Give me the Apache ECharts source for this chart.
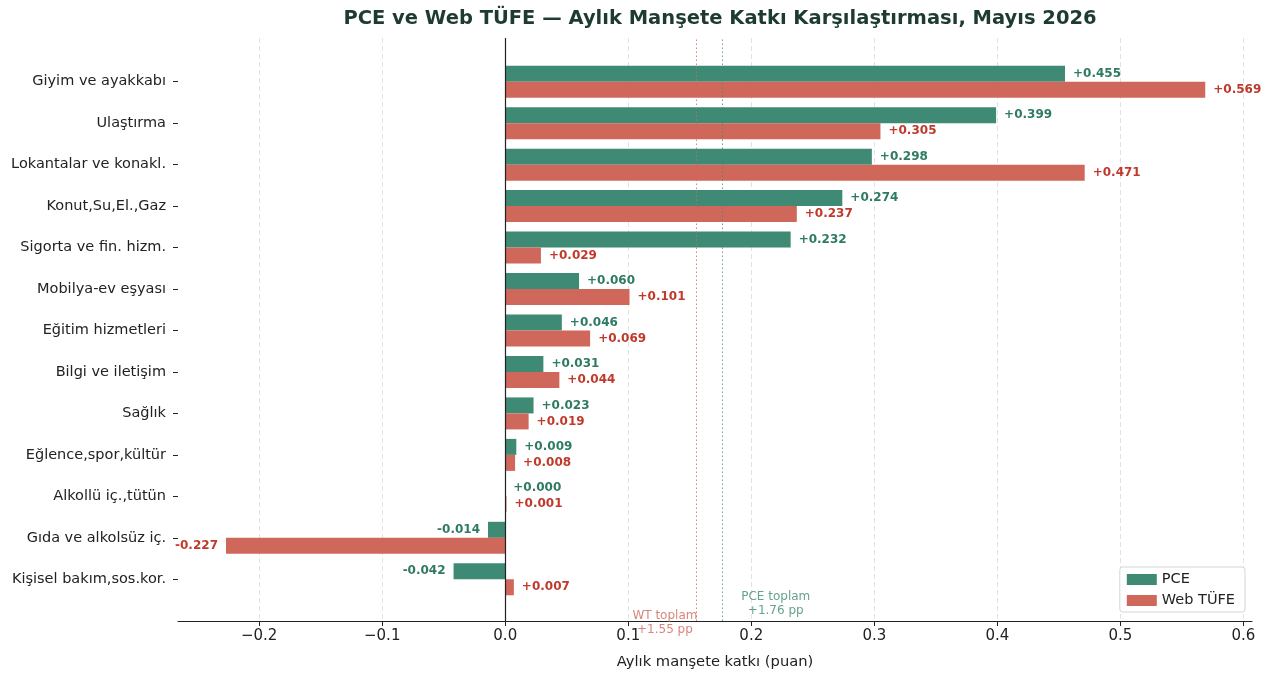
<!DOCTYPE html>
<html>
<head>
<meta charset="utf-8">
<script src="https://cdn.jsdelivr.net/npm/echarts@6/dist/echarts.min.js"></script>
<style>
html,body{margin:0;padding:0;background:#fff;}
#chart{width:1267px;height:675px;}
</style>
</head>
<body>
<div id="chart"></div>
<script>
var categories = ['Giyim ve ayakkabı','Ulaştırma','Lokantalar ve konakl.','Konut,Su,El.,Gaz','Sigorta ve fin. hizm.','Mobilya-ev eşyası','Eğitim hizmetleri','Bilgi ve iletişim','Sağlık','Eğlence,spor,kültür','Alkollü iç.,tütün','Gıda ve alkolsüz iç.','Kişisel bakım,sos.kor.'];
var pceValues = [0.455,0.399,0.298,0.274,0.232,0.060,0.046,0.031,0.023,0.009,0.000,-0.014,-0.042];
var webValues = [0.569,0.305,0.471,0.237,0.029,0.101,0.069,0.044,0.019,0.008,0.001,-0.227,0.007];
var xTicks = [-0.2,-0.1,0.0,0.1,0.2,0.3,0.4,0.5,0.6];
var totals = {pce: 1.76, web: 1.55};
var xMin = -0.266, xMax = 0.607;

var GREEN = '#3f8a74', RED = '#d0675b';
var GREEN_T = '#2f7a62', RED_T = '#c0392b';
var FONT = 'DejaVu Sans';

function fmt(v){ return (v < 0 ? '-' : '+') + Math.abs(v).toFixed(3); }
function items(arr){
  return arr.map(function(v){
    return {value: v, label: {position: v < 0 ? 'left' : 'right'}};
  });
}
function tickFmt(v){
  var s = Math.abs(v).toFixed(1);
  return v < -1e-9 ? '\u2212' + s : s;
}

var chart = echarts.init(document.getElementById('chart'));
chart.setOption({
  backgroundColor: '#fff',
  animation: false,
  title: {
    text: 'PCE ve Web TÜFE — Aylık Manşete Katkı Karşılaştırması, Mayıs 2026',
    left: 715, top: 4, textAlign: 'center',
    textStyle: {fontFamily: FONT, fontSize: 19.5, fontWeight: 'bold', color: '#1d3b2e'}
  },
  legend: {
    data: ['PCE','Web TÜFE'],
    orient: 'vertical',
    right: 22, bottom: 63,
    icon: 'rect', itemWidth: 30, itemHeight: 11, itemGap: 6,
    padding: [5, 10, 4, 7],
    borderColor: '#d5d5d5', borderWidth: 1, borderRadius: 3,
    backgroundColor: '#fff',
    textStyle: {fontFamily: FONT, fontSize: 14.5, color: '#222'}
  },
  grid: [
    {left: 178, right: 15, top: 61, bottom: 75, containLabel: false},
    {left: 178, right: 15, top: 38, bottom: 54, containLabel: false}
  ],
  xAxis: [
    {gridIndex: 0, type: 'value', min: xMin, max: xMax, show: false},
    {gridIndex: 1, type: 'value', min: xMin, max: xMax,
      name: 'Aylık manşete katkı (puan)', nameLocation: 'middle', nameGap: 34,
      nameTextStyle: {fontFamily: FONT, fontSize: 14.7, color: '#222'},
      axisLine: {show: true, lineStyle: {color: '#222', width: 1.2}},
      axisTick: {show: true, length: 5, lineStyle: {color: '#222'}, customValues: xTicks},
      axisLabel: {fontFamily: FONT, fontSize: 15, color: '#222', margin: 8, customValues: xTicks, formatter: tickFmt},
      splitLine: {show: true, lineStyle: {color: '#e2e2e2', type: [5, 3], width: 1}}
    }
  ],
  yAxis: [
    {gridIndex: 0, type: 'category', data: categories, inverse: true,
      axisLine: {show: false, onZero: false},
      axisTick: {show: true, alignWithLabel: true, length: 5, lineStyle: {color: '#222'}},
      axisLabel: {fontFamily: FONT, fontSize: 14.5, color: '#222', margin: 12, padding: [4, 0, 0, 0]},
      splitLine: {show: false}
    },
    {gridIndex: 1, type: 'value', min: 0, max: 1, show: false}
  ],
  series: [
    {name: 'PCE', type: 'bar', xAxisIndex: 0, yAxisIndex: 0,
      data: items(pceValues), barWidth: 16, barGap: '0%',
      itemStyle: {color: GREEN},
      label: {show: true, distance: 8, fontFamily: FONT, fontSize: 12, fontWeight: 'bold', color: GREEN_T,
        formatter: function(p){ return fmt(p.value); }}
    },
    {name: 'Web TÜFE', type: 'bar', xAxisIndex: 0, yAxisIndex: 0,
      data: items(webValues), barWidth: 16, barGap: '0%',
      itemStyle: {color: RED},
      label: {show: true, distance: 8, fontFamily: FONT, fontSize: 12, fontWeight: 'bold', color: RED_T,
        formatter: function(p){ return fmt(p.value); }}
    },
    {name: 'refs', type: 'scatter', xAxisIndex: 1, yAxisIndex: 1, data: [], silent: true,
      markLine: {
        symbol: 'none', silent: true, animation: false, precision: 4,
        data: [
          {xAxis: 0, lineStyle: {color: '#222', width: 1.2, type: 'solid'}, label: {show: false}},
          {xAxis: totals.web / 10, lineStyle: {color: RED, width: 1, type: [1.5, 2.5], opacity: 0.8},
            label: {show: true, position: 'start', distance: 0, offset: [-31, -12],
              formatter: 'WT toplam\n+' + totals.web.toFixed(2) + ' pp',
              fontFamily: FONT, fontSize: 12, color: RED, lineHeight: 14, align: 'center'}},
          {xAxis: totals.pce / 10, lineStyle: {color: GREEN, width: 1, type: [1.5, 2.5], opacity: 0.8},
            label: {show: true, position: 'start', distance: 0, offset: [54, -31],
              formatter: 'PCE toplam\n+' + totals.pce.toFixed(2) + ' pp',
              fontFamily: FONT, fontSize: 12, color: GREEN, lineHeight: 14, align: 'center'}}
        ]
      }
    }
  ]
});
</script>
</body>
</html>
